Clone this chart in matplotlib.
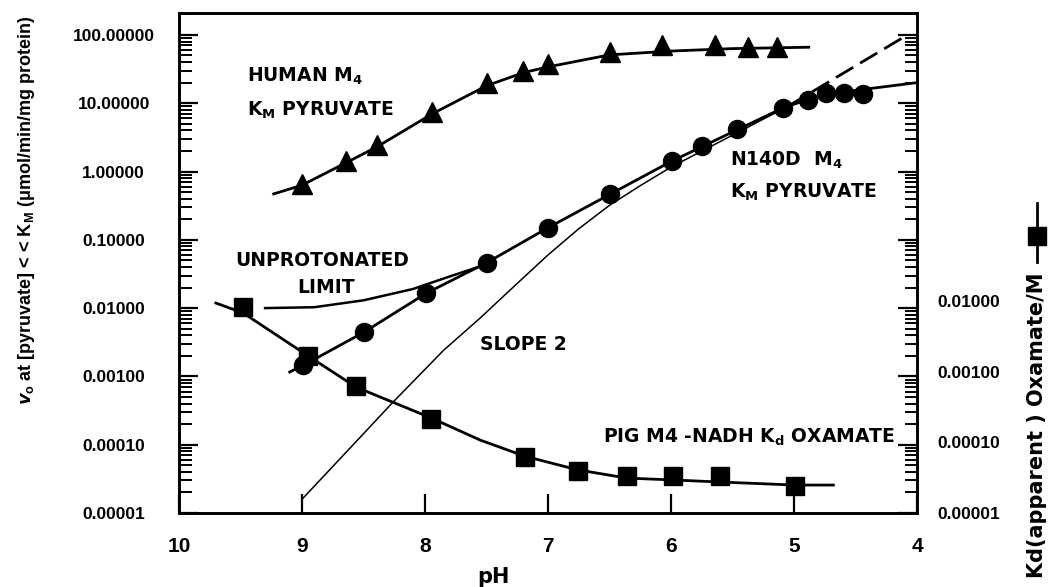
import matplotlib
matplotlib.use("Agg")
import matplotlib.pyplot as plt
from matplotlib.lines import Line2D
from matplotlib.ticker import LogLocator, FixedLocator, NullFormatter

plt.rcParams['font.family'] = ['Liberation Sans', 'DejaVu Sans']
plt.rcParams['font.weight'] = 'bold'
plt.rcParams['mathtext.fontset'] = 'custom'
plt.rcParams['mathtext.rm'] = 'DejaVu Sans:bold'
plt.rcParams['mathtext.it'] = 'DejaVu Sans:italic:bold'
plt.rcParams['mathtext.bf'] = 'DejaVu Sans:bold'
plt.rcParams['mathtext.default'] = 'rm'

# ---------------- data ----------------
# Human M4, KM pyruvate (triangles)
human_ph = [9.00, 8.64, 8.39, 7.94, 7.50, 7.20, 7.00, 6.50, 6.07, 5.64, 5.37, 5.14]
human_val = [0.66, 1.43, 2.44, 7.4, 19.8, 29.6, 37.5, 56, 71, 71, 66.5, 66.5]
human_fit_ph = [9.23, 9.00, 8.64, 8.39, 7.94, 7.50, 7.20, 7.00, 6.50, 6.00, 5.50, 4.88]
human_fit_val = [0.47, 0.63, 1.35, 2.3, 7.0, 18, 28, 34, 51, 58, 63, 66]

# N140D M4, KM pyruvate (circles)
n140d_ph = [8.99, 8.50, 7.99, 7.50, 7.00, 6.50, 5.99, 5.75, 5.46, 5.09, 4.89, 4.74, 4.59, 4.44]
n140d_val = [1.47e-3, 4.5e-3, 0.0166, 0.0457, 0.149, 0.469, 1.43, 2.36, 4.19, 8.5, 11.1, 14.1, 14.1, 13.6]
n140d_fit_ph = [9.10, 8.99, 8.50, 7.99, 7.50, 7.00, 6.50, 6.00, 5.75, 5.46, 5.09, 4.89, 4.74, 4.59, 4.44, 4.02]
n140d_fit_val = [1.16e-3, 1.45e-3, 4.4e-3, 0.0165, 0.046, 0.15, 0.46, 1.4, 2.3, 4.1, 8.5, 11.3, 13.2, 14.7, 15.9, 19.8]

# slope-2 component and its dashed extension
slope_ph = [8.99, 8.60, 8.26, 7.85, 7.55, 7.25, 7.00, 6.75, 6.50, 6.25, 6.00, 5.50, 5.05]
slope_val = [1.66e-5, 9.3e-5, 4.2e-4, 2.4e-3, 7.2e-3, 0.023, 0.06, 0.145, 0.32, 0.62, 1.16, 3.4, 9.0]
dash_ph = [5.05, 4.12]
dash_val = [9.0, 90]

# unprotonated limit
unprot_ph = [9.30, 8.90, 8.50, 8.10, 7.80, 7.45]
unprot_val = [0.0100, 0.0103, 0.0130, 0.019, 0.029, 0.047]

# Pig M4-NADH Kd oxamate (squares, right axis)
pig_ph = [9.48, 8.95, 8.56, 7.95, 7.19, 6.76, 6.36, 5.98, 5.60, 4.99]
pig_kd = [8.4e-3, 1.69e-3, 6.3e-4, 2.15e-4, 6.2e-5, 3.9e-5, 3.3e-5, 3.3e-5, 3.4e-5, 2.4e-5]
pig_fit_ph = [9.70, 9.48, 8.95, 8.56, 7.95, 7.55, 7.19, 6.76, 6.36, 5.98, 5.60, 4.99, 4.68]
pig_fit_kd = [9.5e-3, 6.9e-3, 1.69e-3, 6.1e-4, 2.23e-4, 1.08e-4, 6.4e-5, 4.1e-5, 3.13e-5, 2.94e-5, 2.75e-5, 2.49e-5, 2.49e-5]

x_ticks = [10, 9, 8, 7, 6, 5, 4]
left_ticks = [1e2, 1e1, 1e0, 1e-1, 1e-2, 1e-3, 1e-4, 1e-5]
left_labels = ['100.00000', '10.00000', '1.00000', '0.10000', '0.01000', '0.00100', '0.00010', '0.00001']
right_ticks = [1e-2, 1e-3, 1e-4, 1e-5]
right_labels = ['0.01000', '0.00100', '0.00010', '0.00001']

# ---------------- figure ----------------
W, H = 1048, 587
fig = plt.figure(figsize=(W / 100, H / 100), dpi=100)
L, R, B, T = 179, 917, 513, 13
ax = fig.add_axes([L / W, 1 - B / H, (R - L) / W, (B - T) / H])
ax2 = ax.twinx()

ax.set_xlim(10, 4)
ax.set_yscale('log')
ax.set_ylim(1e-5, 10 ** (-5 + (B - T) / 68.3))
ax2.set_yscale('log')
ax2.set_ylim(1e-5, 10 ** (-5 + (B - T) / 70.5))

lw_fit = 2.0
ax.plot(human_fit_ph, human_fit_val, color='black', lw=lw_fit, zorder=2)
ax.plot(human_ph, human_val, linestyle='none', marker='^', ms=14, color='black', zorder=3)

ax.plot(n140d_fit_ph, n140d_fit_val, color='black', lw=lw_fit, zorder=2)
ax.plot(n140d_ph, n140d_val, linestyle='none', marker='o', ms=13, color='black', zorder=3)

ax.plot(slope_ph, slope_val, color='black', lw=1.1, zorder=2)
dl, = ax.plot(dash_ph, dash_val, color='black', lw=2.0, zorder=2)
dl.set_dashes((7.2, 2.9))
ax.plot(unprot_ph, unprot_val, color='black', lw=1.8, zorder=2)

ax2.plot(pig_fit_ph, pig_fit_kd, color='black', lw=lw_fit, zorder=2)
ax2.plot(pig_ph, pig_kd, linestyle='none', marker='s', ms=12.5, color='black', zorder=3)

# axes styling
for a in (ax, ax2):
    for s in a.spines.values():
        s.set_linewidth(1.9)

ax.set_xticks(x_ticks)
ax.set_xticklabels([str(t) for t in x_ticks], fontsize=15, fontweight='bold')
ax.tick_params(axis='x', direction='in', length=14, width=1.6, pad=17)

ax.yaxis.set_major_locator(FixedLocator(left_ticks))
ax.set_yticklabels(left_labels, fontsize=12.5, fontweight='bold', ha='center')
ax.yaxis.set_minor_locator(LogLocator(base=10, subs=range(2, 10), numticks=30))
ax.yaxis.set_minor_formatter(NullFormatter())
ax.tick_params(axis='y', which='major', direction='in', length=14, width=1.6,
               pad=47, left=True, right=True)
ax.tick_params(axis='y', which='minor', direction='in', length=9, width=1.4,
               left=True, right=True)

ax2.yaxis.set_major_locator(FixedLocator(right_ticks))
ax2.set_yticklabels(right_labels, fontsize=12.5, fontweight='bold')
ax2.yaxis.set_minor_locator(FixedLocator([]))
ax2.tick_params(axis='y', which='both', length=0, pad=15)

# x label
fig.text(493 / W, 1 - 577 / H, 'pH', fontsize=15, fontweight='bold',
         family='DejaVu Sans', ha='center', va='center')

# annotations
fs = 13.5
af = 'DejaVu Sans'
ax.text(9.447, 25, 'HUMAN M$_4$', fontsize=fs, family=af, va='center', ha='left')
ax.text(9.447, 7.95, 'K$_\\mathregular{M}$ PYRUVATE', fontsize=fs, family=af, va='center', ha='left')
ax.text(9.545, 0.0506, 'UNPROTONATED', fontsize=fs, family=af, va='center', ha='left')
ax.text(8.805, 0.0197, 'LIMIT', fontsize=fs, family=af, va='center', ha='center')
ax.text(7.553, 2.98e-3, 'SLOPE 2', fontsize=fs, family=af, va='center', ha='left')
ax.text(5.52, 1.47, 'N140D  M$_4$', fontsize=fs, family=af, va='center', ha='left')
ax.text(5.52, 0.50, 'K$_\\mathregular{M}$ PYRUVATE', fontsize=fs, family=af, va='center', ha='left')
ax.text(6.553, 1.3e-4, 'PIG M4 -NADH K$_\\mathregular{d}$ OXAMATE', fontsize=fs, family=af,
        va='center', ha='left')

# y labels
fig.text(27 / W, 1 - 210 / H,
         '$\\mathit{v}_\\mathregular{o}$ at [pyruvate] < < K$_\\mathregular{M}$ (μmol/min/mg protein)',
         rotation=90, ha='center', va='center', fontsize=13, fontweight='bold',
         family=['Liberation Sans', 'DejaVu Sans'])
fig.text(1037 / W, 1 - 425 / H, 'Kd(apparent ) Oxamate/M', rotation=90,
         ha='center', va='center', fontsize=15, fontweight='bold', family='DejaVu Sans')
fig.add_artist(Line2D([1037 / W, 1037 / W], [1 - 203 / H, 1 - 262 / H],
                      transform=fig.transFigure, color='black', lw=2))
fig.add_artist(Line2D([1037 / W], [1 - 236 / H], transform=fig.transFigure,
                      marker='s', ms=13, color='black', linestyle='none'))

fig.savefig('out.png', dpi=100)
